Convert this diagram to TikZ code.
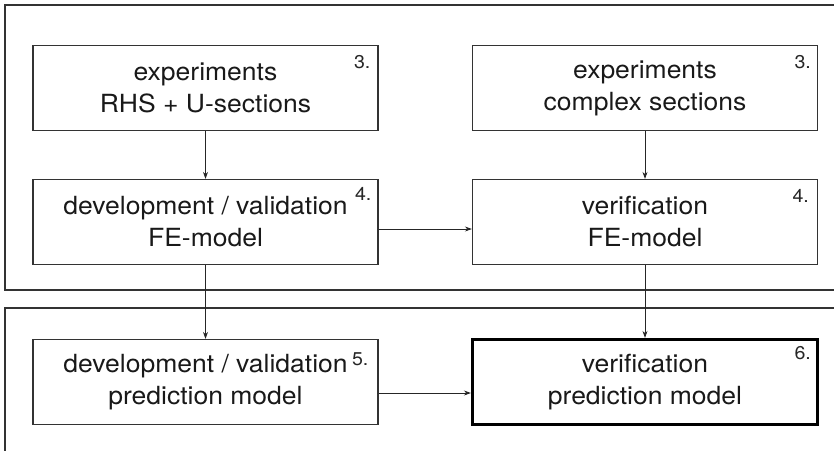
\documentclass[tikz,border=0pt]{standalone}
\usepackage{fontspec}
\setmainfont{TeX Gyre Heros}
\usetikzlibrary{arrows.meta}
\newcommand\sx[1]{\scalebox{1.06}[1]{#1}}
\begin{document}
\begin{tikzpicture}[x=1pt,y=-1pt,
  frame/.style={draw=black!80,line width=1.3pt},
  box/.style={draw=black!80,line width=1.2pt,minimum width=345pt,minimum height=85pt,
    inner sep=0pt,align=center,font=\fontsize{25}{32}\selectfont,text=black!90},
  mainbox/.style={box,draw=black,line width=3.2pt},
  num/.style={inner sep=0pt,font=\fontsize{18.5}{20}\selectfont,text=black!85},
  arr/.style={draw=black!85,line width=0.9pt,-{Stealth[length=7pt,width=5pt]}}]
\useasboundingbox (0,0) rectangle (834,450);
\fill[white] (0,0) rectangle (834,450);
\clip (0,0) rectangle (834,450);
% frames
\draw[frame] (845,5) -- (5,5) -- (5,290) -- (845,290);
\draw[frame] (845,308) -- (5,308) -- (5,460);
% boxes
\node[box] (b1) at (205.5,88) {\sx{experiments}\\\sx{RHS + U-sections}};
\node[box] (b2) at (645,88) {\sx{experiments}\\\sx{complex sections}};
\node[box] (b3) at (205.5,222) {\sx{development / validation}\\\sx{FE-model}};
\node[box] (b4) at (645,222) {\sx{verification}\\\sx{FE-model}};
\node[box] (b5) at (205.5,382) {\sx{development / validation}\\\sx{prediction model}};
\node[mainbox] (b6) at (645,382) {\sx{verification}\\\sx{prediction model}};
% numbers
\node[num,anchor=north east] (n1) at ([xshift=-8pt,yshift=-10pt]b1.north east) {\sx{3.}};
\node[num,anchor=north east] (n2) at ([xshift=-7pt,yshift=-10pt]b2.north east) {\sx{3.}};
\node[num,anchor=north east] (n3) at ([xshift=-7pt,yshift=-8pt]b3.north east) {\sx{4.}};
\node[num,anchor=north east] (n4) at ([xshift=-9pt,yshift=-10pt]b4.north east) {\sx{4.}};
\node[num,anchor=north east] (n5) at ([xshift=-10pt,yshift=-14pt]b5.north east) {\sx{5.}};
\node[num,anchor=north east] (n6) at ([xshift=-8pt,yshift=-8pt]b6.north east) {\sx{6.}};
% arrows
\draw[arr] (b1) -- (b3);
\draw[arr] (b2) -- (b4);
\draw[arr] (b3) -- (b5);
\draw[arr] (b4) -- (b6);
\draw[arr] ([yshift=-7pt]b3.east) -- ([yshift=-7pt]b4.west);
\draw[arr] ([yshift=-11pt]b5.east) -- ([yshift=-11pt]b6.west);
\end{tikzpicture}
\end{document}
